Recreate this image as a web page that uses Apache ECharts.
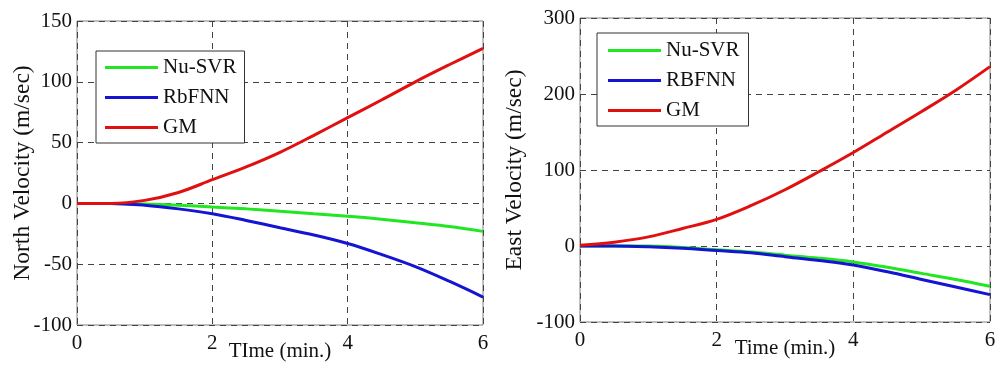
<!DOCTYPE html>
<html><head><meta charset="utf-8">
<script src="https://cdn.jsdelivr.net/npm/echarts@6/dist/echarts.min.js"></script>
<style>html,body{margin:0;padding:0;background:#fff}#c{width:1000px;height:373px}</style>
</head><body><div id="c"></div>
<script>
const time = [0,0.5,1,1.5,2,2.5,3,3.5,4,4.5,5,5.5,6];
// Left panel: North velocity
const northNuSVR = [0,0,-0.5,-1.5,-3,-4.5,-6.5,-8.5,-10.5,-13,-16,-19,-23];
const northRbFNN = [0,0,-1.5,-4.5,-8.5,-14,-20,-26,-33,-42,-52,-64,-77];
const northGM = [0,0,2.5,9,19.5,30,42,56,70.5,85,100,114,127.5];
// Right panel: East velocity
const eastNuSVR = [0,0,0,-2,-5,-8,-12,-16,-21,-28,-36,-44,-53];
const eastRBFNN = [0,0,-1,-3,-6,-9,-14,-19,-25,-34,-44,-54,-64];
const eastGM = [1,5,12,23,35,53,74,98,123,150,177,205,236];
const leftNames = ['Nu-SVR','RbFNN','GM'];
const rightNames = ['Nu-SVR','RBFNN','GM'];
const colors = ['#22e622','#1414d2','#e01010'];

const FONT = 'Liberation Serif';
const pair = (a) => time.map((t,i)=>[t,a[i]]);
const gridLine = {show:true,lineStyle:{color:'#444',type:[6,5],width:1}};
const xAxis = (idx,name) => ({
  type:'value', gridIndex:idx, min:0, max:6, interval:2,
  name:name, nameLocation:'middle', nameGap:16, nameMoveOverlap:false,
  nameTextStyle:{fontFamily:FONT,fontSize:21,color:'#111'},
  axisLine:{show:false}, axisTick:{show:false},
  axisLabel:{fontFamily:FONT,fontSize:21,color:'#111',margin:8},
  splitLine:gridLine
});
const yAxis = (idx,name,min,max,interval,gap) => ({
  type:'value', gridIndex:idx, min:min, max:max, interval:interval,
  name:name, nameLocation:'middle', nameGap:gap, nameMoveOverlap:false,
  nameTextStyle:{fontFamily:FONT,fontSize:23.5,color:'#111'},
  axisLine:{show:false}, axisTick:{show:false},
  axisLabel:{fontFamily:FONT,fontSize:21,color:'#111',margin:5},
  splitLine:gridLine
});
const line = (name,data,idx,color) => ({
  type:'line', name:name, data:pair(data), xAxisIndex:idx, yAxisIndex:idx,
  showSymbol:false, smooth:0.35, lineStyle:{color:color,width:3}, itemStyle:{color:color}
});
const legend = (names,left,top,padding) => ({
  data:names, orient:'vertical', left:left, top:top, padding:padding,
  icon:'rect', itemWidth:53, itemHeight:3, itemGap:9,
  backgroundColor:'#fff', borderColor:'#333', borderWidth:1,
  textStyle:{fontFamily:FONT,fontSize:21,color:'#111'}
});

const chart = echarts.init(document.getElementById('c'));
chart.setOption({
  animation:false,
  grid:[
    {left:77,right:517,top:21,bottom:48,show:true,borderColor:'#808080',borderWidth:1,backgroundColor:'transparent',containLabel:false,outerBoundsMode:'none'},
    {left:580,right:10,top:18,bottom:51,show:true,borderColor:'#808080',borderWidth:1,backgroundColor:'transparent',containLabel:false,outerBoundsMode:'none'}
  ],
  xAxis:[xAxis(0,'TIme (min.)'), xAxis(1,'Time (min.)')],
  yAxis:[yAxis(0,'North Velocity (m/sec)',-100,150,50,42), yAxis(1,'East Velocity (m/sec)',-100,300,100,53)],
  legend:[legend(leftNames,96,51,[6,8,5,9]), legend(rightNames,597,33,[7,9,5,11])],
  series:[
    line(leftNames[0],northNuSVR,0,colors[0]),
    line(leftNames[1],northRbFNN,0,colors[1]),
    line(leftNames[2],northGM,0,colors[2]),
    line(rightNames[0],eastNuSVR,1,colors[0]),
    line(rightNames[1],eastRBFNN,1,colors[1]),
    line(rightNames[2],eastGM,1,colors[2])
  ]
});
</script></body></html>
